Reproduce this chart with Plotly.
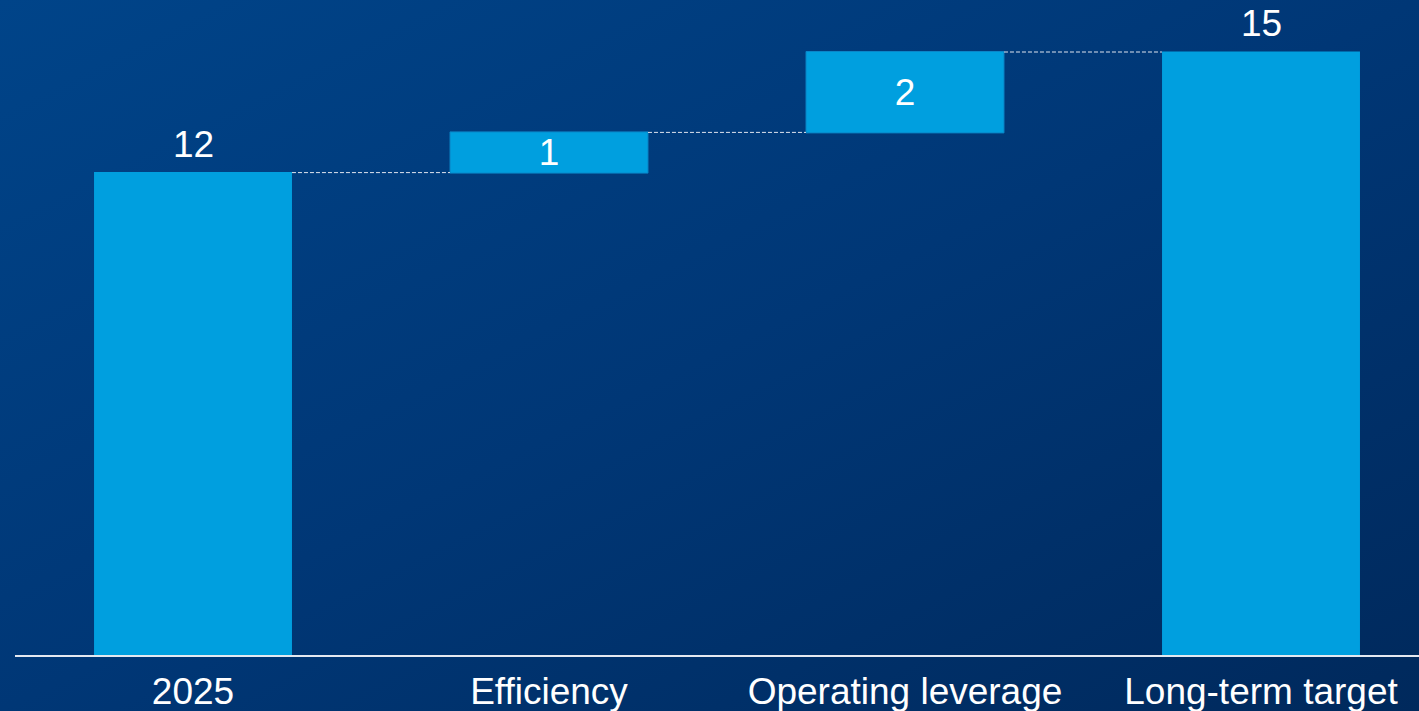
import base64
import plotly.graph_objects as go

# Profitability bridge: starting level, drivers, target
categories = ["2025", "Efficiency", "Operating leverage", "Long-term target"]
values = [12, 1, 2, 15]
measures = ["absolute", "relative", "relative", "total"]

W, H = 1419, 711
M_L, M_R, M_T, M_B = 15, 0, 0, 56
plot_w = W - M_L - M_R
plot_h = H - M_T - M_B

BAR = "#009fdf"
FONT = "Liberation Sans, Arial, sans-serif"

# diagonal blue background gradient as an SVG image
svg = (
    '<svg xmlns="http://www.w3.org/2000/svg" width="1419" height="711" '
    'viewBox="0 0 1419 711" preserveAspectRatio="none">'
    '<defs><linearGradient id="g" x1="0" y1="0" x2="1" y2="1">'
    '<stop offset="0" stop-color="#004489"/>'
    '<stop offset="0.5" stop-color="#003776"/>'
    '<stop offset="1" stop-color="#00295c"/>'
    '</linearGradient></defs>'
    '<rect width="1419" height="711" fill="url(#g)"/></svg>'
)
bg_uri = "data:image/svg+xml;base64," + base64.b64encode(svg.encode()).decode()

# running level at the top of each bar
tops = []
level = 0
for v, m in zip(values, measures):
    if m == "absolute":
        level = v
    elif m == "relative":
        level += v
    tops.append(level)

fig = go.Figure(
    go.Waterfall(
        x=categories,
        y=[v if m != "total" else 0 for v, m in zip(values, measures)],
        measure=measures,
        text=[str(v) if m == "relative" else "" for v, m in zip(values, measures)],
        textposition="inside",
        textangle=0,
        textfont=dict(family=FONT, size=37, color="white"),
        insidetextanchor="middle",
        constraintext="none",
        cliponaxis=False,
        width=0.556,
        increasing=dict(marker=dict(color=BAR, line=dict(color="#0a86c8", width=1))),
        decreasing=dict(marker=dict(color=BAR)),
        totals=dict(marker=dict(color=BAR, line=dict(width=0))),
        connector=dict(mode="between", line=dict(color="#dfe4ee", width=1, dash="4px,2px")),
        hoverinfo="skip",
    )
)

# value labels above the absolute and total bars
for i, (v, m, top) in enumerate(zip(values, measures, tops)):
    if m != "relative":
        fig.add_annotation(
            x=i, y=top, xref="x", yref="y", text=str(v), showarrow=False,
            yanchor="bottom", yshift=6,
            font=dict(family=FONT, size=37, color="white"),
        )

unit_px = 40.2
fig.update_layout(
    width=W,
    height=H,
    margin=dict(l=M_L, r=M_R, t=M_T, b=M_B, pad=0),
    paper_bgcolor="#003877",
    plot_bgcolor="rgba(0,0,0,0)",
    showlegend=False,
    font=dict(family=FONT, color="white"),
    images=[
        dict(
            source=bg_uri,
            xref="paper",
            yref="paper",
            x=-M_L / plot_w,
            y=1 + M_T / plot_h,
            sizex=W / plot_w,
            sizey=H / plot_h,
            xanchor="left",
            yanchor="top",
            sizing="stretch",
            layer="below",
        )
    ],
    xaxis=dict(
        type="category",
        range=[-0.5, -0.5 + plot_w / 356],
        showline=True,
        linecolor="#e4e8f0",
        linewidth=2,
        showgrid=False,
        zeroline=False,
        ticks="",
        tickfont=dict(family=FONT, size=37, color="white"),
        ticklabelstandoff=3,
    ),
    yaxis=dict(
        range=[0, plot_h / unit_px],
        visible=False,
        showgrid=False,
        zeroline=False,
    ),
)

fig.write_html("out.html")
